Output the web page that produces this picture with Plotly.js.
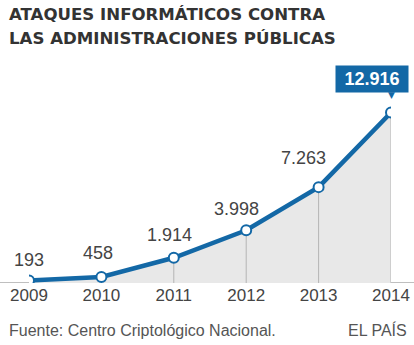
<!DOCTYPE html>
<html><head><meta charset="utf-8">
<script src="https://cdn.plot.ly/plotly-3.0.1.min.js"></script>
<style>html,body{margin:0;padding:0;background:#fff}#c{width:414px;height:345px}</style>
</head><body><div id="c"></div>
<script>
var years = [2009, 2010, 2011, 2012, 2013, 2014];
var attacks = [193, 458, 1914, 3998, 7263, 12916];
var titleLines = ["ATAQUES INFORMÁTICOS CONTRA", "LAS ADMINISTRACIONES PÚBLICAS"];
var source = "Fuente: Centro Criptológico Nacional.";
var credit = "EL PAÍS";

// label placement offsets (pixels), styling only
var labelDx = [0, -3, -4, -10, -15];
var labelDy = [20, 24, 23, 21, 29];

var BLUE = "#1368a6";
function fmt(v){ return String(v).replace(/\B(?=(\d{3})+(?!\d))/g, "."); }

var W = 414, H = 345, L = 29, R = 23, T = 100, B = 62;
var pw = W - L - R, ph = H - T - B;
function px(xPix){ return (xPix - L) / pw; }
function py(yPix){ return (H - B - yPix) / ph; }

var traces = [
  {x: years, y: attacks, type: "scatter", mode: "none", fill: "tozeroy",
   fillcolor: "#e8e8e8", hoverinfo: "skip"},
  {x: years, y: attacks, type: "scatter", mode: "markers", marker: {opacity: 0},
   error_y: {type: "data", symmetric: false, array: attacks.map(function(){return 0;}),
             arrayminus: attacks, color: "#b4b4b4", thickness: 1, width: 0},
   hoverinfo: "skip"},
  {x: years, y: attacks, type: "scatter", mode: "lines+markers",
   line: {color: BLUE, width: 4.5},
   marker: {size: 10, color: "#fff", line: {color: BLUE, width: 2}}}
];

var ann = [];
for (var i = 0; i < years.length - 1; i++) {
  ann.push({x: years[i], y: attacks[i], text: fmt(attacks[i]), showarrow: false,
    xshift: labelDx[i], yshift: labelDy[i],
    font: {family: "Liberation Sans, Arial, sans-serif", size: 18, color: "#444"}});
}
var last = years.length - 1;
ann.push({x: years[last], y: attacks[last], text: "<b>" + fmt(attacks[last]) + "</b>", showarrow: false,
  yshift: 34, xshift: -19, bgcolor: BLUE, borderpad: 3, width: 66, height: 20,
  font: {family: "Liberation Sans, Arial, sans-serif", size: 18, color: "#fff"}});
ann.push({x: years[last], y: attacks[last], text: "▼", showarrow: false,
  yshift: 18, xshift: 0, font: {family: "DejaVu Sans, sans-serif", size: 9, color: BLUE}});

ann.push({xref: "paper", yref: "paper", x: px(7), y: py(15), xanchor: "left", yanchor: "middle",
  text: "<b>" + titleLines[0] + "</b>", showarrow: false,
  font: {family: "DejaVu Sans, Verdana, sans-serif", size: 16.6, color: "#333"}});
ann.push({xref: "paper", yref: "paper", x: px(7), y: py(38), xanchor: "left", yanchor: "middle",
  text: "<b>" + titleLines[1] + "</b>", showarrow: false,
  font: {family: "DejaVu Sans, Verdana, sans-serif", size: 16.6, color: "#333"}});
ann.push({xref: "paper", yref: "paper", x: px(7), y: py(330), xanchor: "left", yanchor: "middle",
  text: source, showarrow: false,
  font: {family: "Liberation Sans, Arial, sans-serif", size: 16, color: "#555"}});
ann.push({xref: "paper", yref: "paper", x: px(409), y: py(330), xanchor: "right", yanchor: "middle",
  text: credit, showarrow: false,
  font: {family: "Liberation Sans, Arial, sans-serif", size: 16, color: "#555"}});

var layout = {
  width: W, height: H, margin: {l: L, r: R, t: T, b: B},
  paper_bgcolor: "#fff", plot_bgcolor: "rgba(0,0,0,0)", showlegend: false,
  xaxis: {range: [2009, 2014], tickvals: years, ticktext: years.map(String),
    showgrid: false, zeroline: false, showline: false, ticks: "", ticklen: 0,
    tickfont: {family: "Liberation Sans, Arial, sans-serif", size: 17, color: "#444"},
    fixedrange: true},
  yaxis: {range: [0, 13864], visible: false, fixedrange: true},
  shapes: [{type: "line", xref: "paper", yref: "y", x0: px(0), x1: px(414), y0: 0, y1: 0,
    line: {color: "#aaa", width: 1.5}, layer: "below"}],
  annotations: ann
};
Plotly.newPlot("c", traces, layout, {staticPlot: true, displayModeBar: false});
</script></body></html>
